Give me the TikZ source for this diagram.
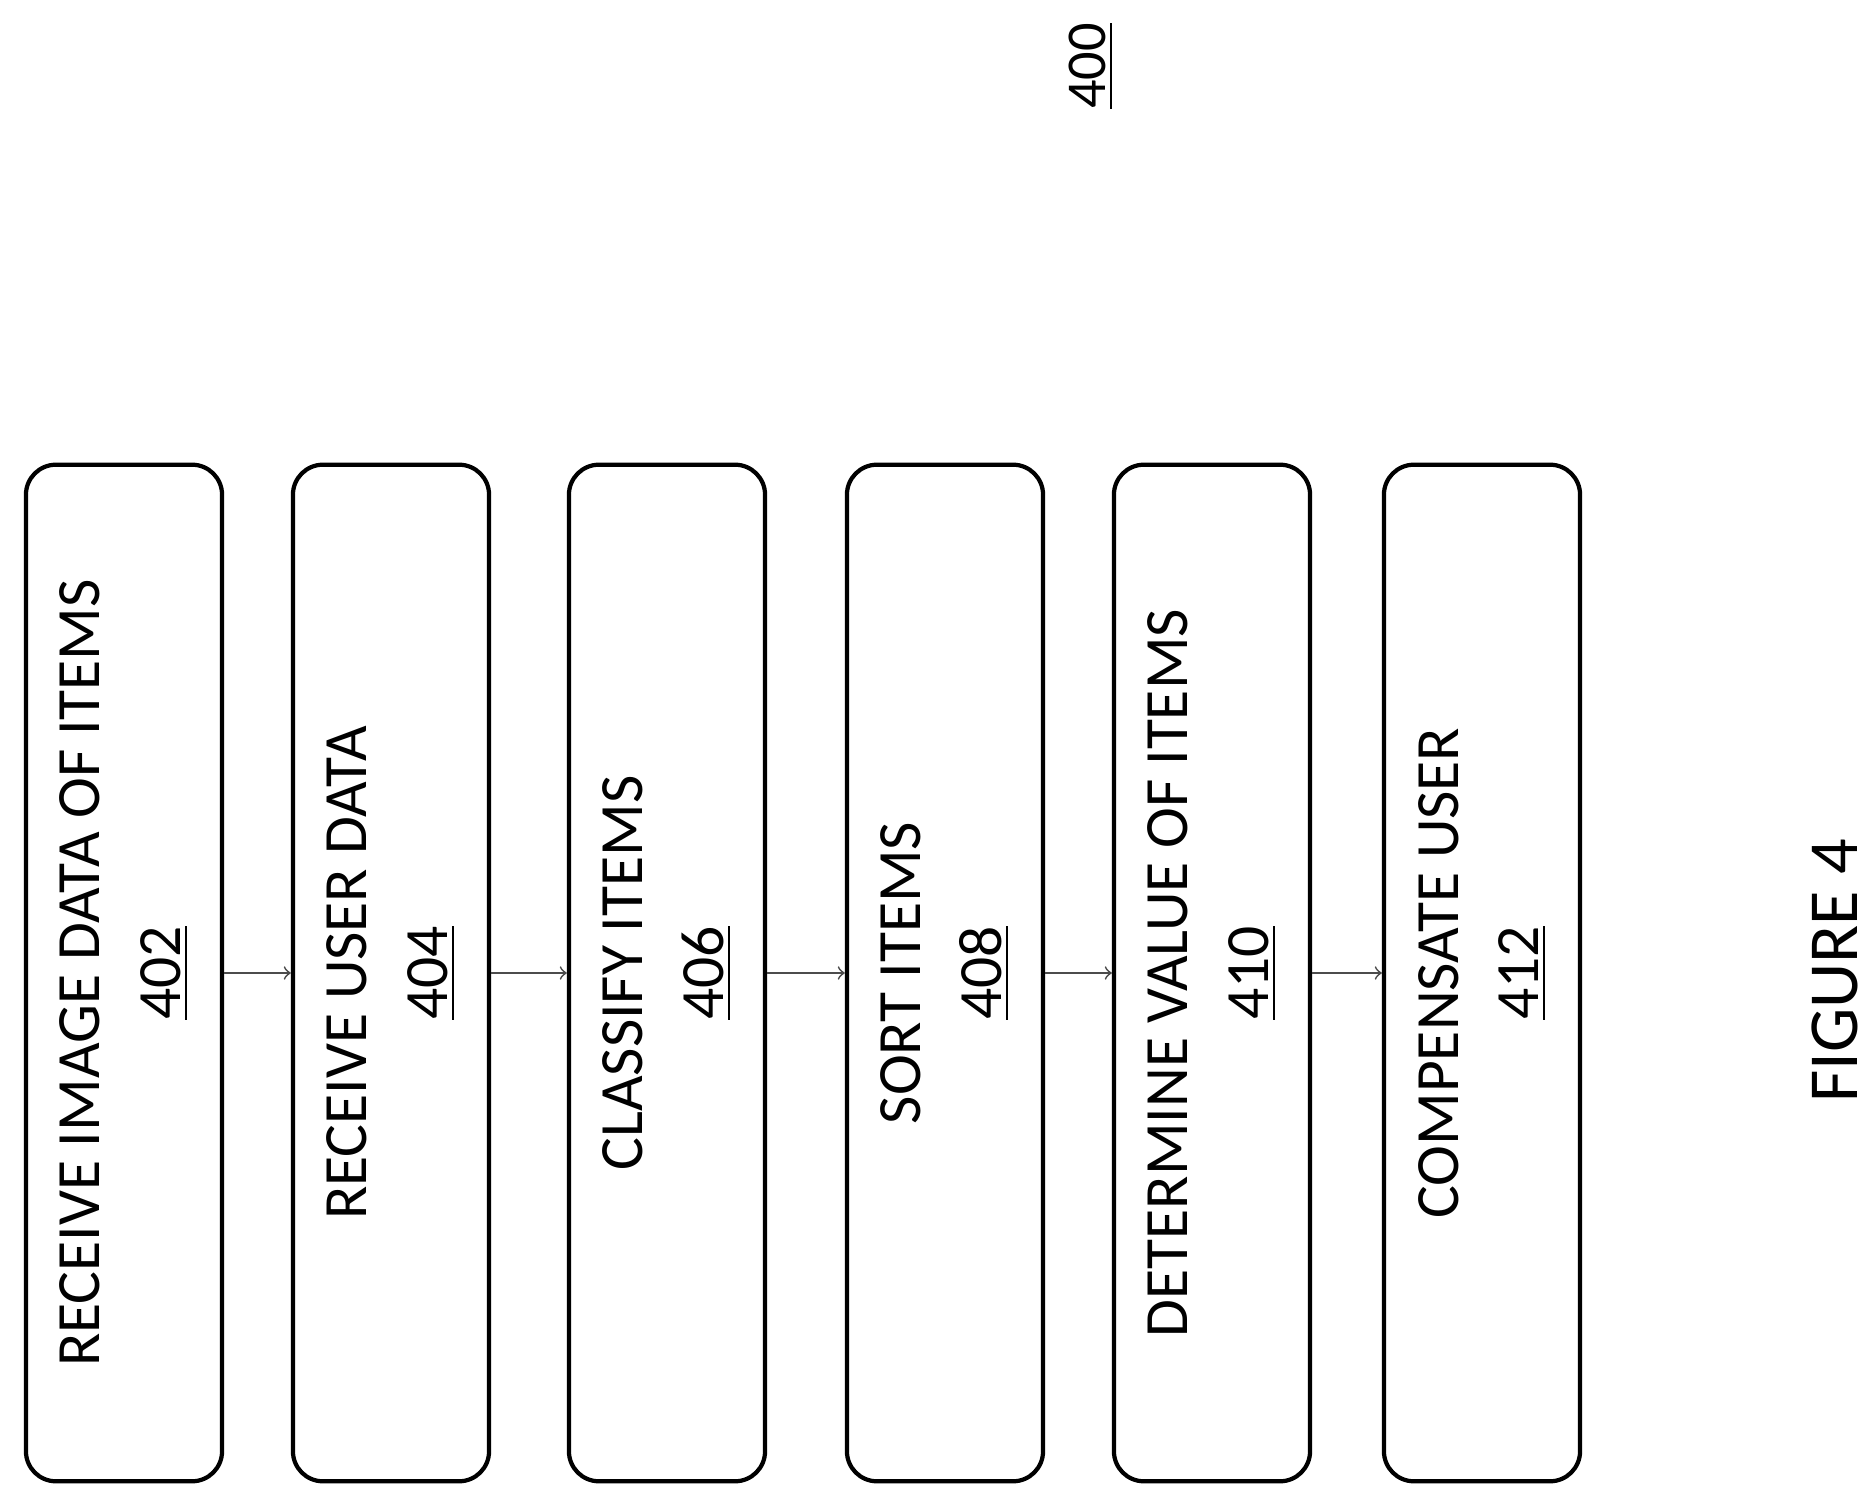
\documentclass[tikz,border=0pt]{standalone}
\usepackage{fontspec}
\setmainfont{Carlito}
\begin{document}
\begin{tikzpicture}[x=0.01cm,y=-0.01cm,
    stepbox/.style={rectangle, draw, line width=1.2pt, rounded corners=0.3cm,
        rotate=90, minimum width=10.16cm, minimum height=1.96cm,
        align=center, font=\fontsize{17.5}{23}\selectfont},
    flow/.style={->, draw=black!70, line width=0.5pt}]
\useasboundingbox (0,0) rectangle (1871,1500);
\node[stepbox] (A) at (124,973) {RECEIVE IMAGE DATA OF ITEMS\\\underline{402}};
\node[stepbox] (B) at (391,973) {RECEIVE USER DATA\\\underline{404}};
\node[stepbox] (C) at (667,973) {CLASSIFY ITEMS\\\underline{406}};
\node[stepbox] (D) at (945,973) {SORT ITEMS\\\underline{408}};
\node[stepbox] (E) at (1212,973) {DETERMINE VALUE OF ITEMS\\\underline{410}};
\node[stepbox] (F) at (1482,973) {COMPENSATE USER\\\underline{412}};

\draw[flow] (A.south) -- (B.north);
\draw[flow] (B.south) -- (C.north);
\draw[flow] (C.south) -- (D.north);
\draw[flow] (D.south) -- (E.north);
\draw[flow] (E.south) -- (F.north);

\node[rotate=90, font=\fontsize{16}{18}\selectfont] (fig) at (1091,66) {\underline{400}};
\node[rotate=90, font=\fontsize{20}{22}\selectfont] (cap) at (1835,971) {FIGURE 4};
\end{tikzpicture}
\end{document}
